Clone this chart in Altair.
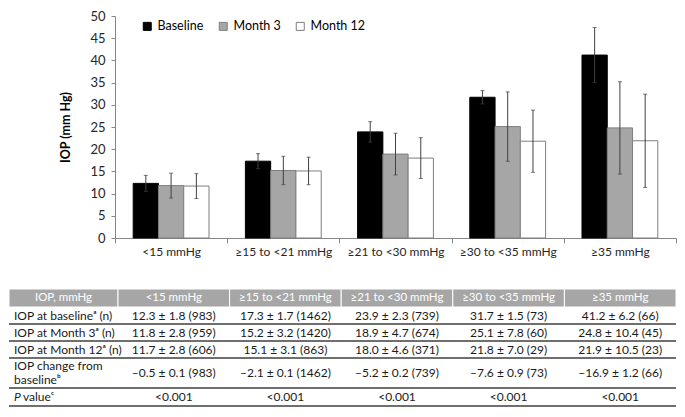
import altair as alt
import pandas as pd

# ---------------- data ----------------
categories = ["<15 mmHg", "≥15 to <21 mmHg", "≥21 to <30 mmHg", "≥30 to <35 mmHg", "≥35 mmHg"]
series = ["Baseline", "Month 3", "Month 12"]

baseline_mean = [12.3, 17.3, 23.9, 31.7, 41.2]
baseline_sd = [1.8, 1.7, 2.3, 1.5, 6.2]
baseline_n = [983, 1462, 739, 73, 66]

month3_mean = [11.8, 15.2, 18.9, 25.1, 24.8]
month3_sd = [2.8, 3.2, 4.7, 7.8, 10.4]
month3_n = [959, 1420, 674, 60, 45]

month12_mean = [11.7, 15.1, 18.0, 21.8, 21.9]
month12_sd = [2.8, 3.1, 4.6, 7.0, 10.5]
month12_n = [606, 863, 371, 29, 23]

change_mean = [-0.5, -2.1, -5.2, -7.6, -16.9]
change_se = [0.1, 0.1, 0.2, 0.9, 1.2]
change_n = [983, 1462, 739, 73, 66]

p_values = ["<0.001", "<0.001", "<0.001", "<0.001", "<0.001"]

y_ticks = [0, 5, 10, 15, 20, 25, 30, 35, 40, 45, 50]

header_first = "IOP, mmHg"
row_labels = ["IOP at baselineᵃ (n)", "IOP at Month 3ᵃ (n)", "IOP at Month 12ᵃ (n)"]
change_label_lines = ["IOP change from", "baselineᵇ"]

# ---------------- layout / style ----------------
FONT = "Lato"
TFS = 12         # table body font size
HFS = 11.5       # table header font size
W = 561          # plot width
H = 222          # plot height
LEFT = 106       # space left of plot (table spans it)
TOTAL_W = LEFT + W
TABLE_H = 117
first_col_w = 109
col_edges = [0, first_col_w] + [first_col_w + (TOTAL_W - first_col_w) * (i + 1) / 5 for i in range(5)]
row_edges = [0, 18, 35, 52, 69, 99, 117]

fills = ["#000000", "#a6a6a6", "#ffffff"]
strokes = ["#000000", "#7f7f7f", "#7f7f7f"]

# ---------------- bar chart ----------------
recs = []
for s, means, sds in zip(series, [baseline_mean, month3_mean, month12_mean],
                         [baseline_sd, month3_sd, month12_sd]):
    for c, m, sd in zip(categories, means, sds):
        recs.append({"category": c, "series": s, "mean": m, "lo": m - sd, "hi": m + sd})
bdf = pd.DataFrame(recs)

x_enc = alt.X("category:N", sort=categories,
              scale=alt.Scale(paddingInner=0, paddingOuter=0),
              axis=alt.Axis(title=None, labelAngle=0, tickBand="extent", tickSize=5,
                            domainColor="#868686", tickColor="#868686",
                            labelColor="#262626", labelFont=FONT, labelFontSize=12,
                            labelPadding=3))
xo_enc = alt.XOffset("series:N", sort=series,
                     scale=alt.Scale(paddingInner=0, paddingOuter=0.72))
y_scale = alt.Scale(domain=[0, 50], nice=False)
y_axis = alt.Axis(values=y_ticks, grid=False, tickSize=4, labelOverlap=False,
                  labelPadding=6, domainColor="#868686", tickColor="#868686",
                  labelColor="#262626", labelFont=FONT, labelFontSize=13,
                  title="IOP (mm Hg)", titleFont=FONT, titleFontSize=12.5,
                  titleFontWeight="bold", titleColor="#000000", titlePadding=17)

legend = alt.Legend(title=None, orient="none", legendX=26, legendY=4, direction="horizontal",
                    symbolType="square", symbolSize=64, symbolStrokeWidth=1,
                    labelFont=FONT, labelFontSize=12.5, labelColor="#000000",
                    columnPadding=13, labelOffset=4, padding=0)

base = alt.Chart(bdf)
bars = base.mark_bar(strokeWidth=1).encode(
    x=x_enc, xOffset=xo_enc,
    y=alt.Y("mean:Q", scale=y_scale, axis=y_axis, title="IOP (mm Hg)"),
    fill=alt.Fill("series:N", sort=series, scale=alt.Scale(domain=series, range=fills), legend=legend),
    stroke=alt.Stroke("series:N", sort=series, scale=alt.Scale(domain=series, range=strokes), legend=legend),
)
err = base.mark_rule(color="#404040", strokeWidth=1).encode(
    x=x_enc, xOffset=xo_enc, y=alt.Y("lo:Q", scale=y_scale, axis=y_axis, title="IOP (mm Hg)"), y2="hi:Q")
cap_hi = base.mark_tick(color="#404040", size=4, thickness=1).encode(
    x=x_enc, xOffset=xo_enc, y=alt.Y("hi:Q", scale=y_scale, axis=y_axis, title="IOP (mm Hg)"))
cap_lo = base.mark_tick(color="#404040", size=4, thickness=1).encode(
    x=x_enc, xOffset=xo_enc, y=alt.Y("lo:Q", scale=y_scale, axis=y_axis, title="IOP (mm Hg)"))

bar_chart = alt.layer(bars, err, cap_hi, cap_lo).properties(width=W, height=H)

# ---------------- table ----------------
tx = alt.Scale(domain=[0, TOTAL_W], range=[-LEFT, W], nice=False, zero=False)
ty = alt.Scale(domain=[0, TABLE_H], range=[0, TABLE_H], nice=False, zero=False)

headers = [header_first] + categories
hdf = pd.DataFrame({
    "text": headers,
    "x0": col_edges[:-1], "x1": col_edges[1:],
    "xc": [(a + b) / 2 for a, b in zip(col_edges[:-1], col_edges[1:])],
    "y0": row_edges[0], "y1": row_edges[1],
})
hdf["yc"] = (hdf["y0"] + hdf["y1"]) / 2

header_rect = alt.Chart(hdf).mark_rect(fill="#a6a6a6", stroke="#ffffff", strokeWidth=1).encode(
    x=alt.X("x0:Q", scale=tx, axis=None), x2="x1:Q",
    y=alt.Y("y0:Q", scale=ty, axis=None), y2="y1:Q")
header_text = alt.Chart(hdf).mark_text(color="#ffffff", font=FONT, fontSize=HFS, baseline="middle").encode(
    x=alt.X("xc:Q", scale=tx, axis=None), y=alt.Y("yc:Q", scale=ty, axis=None), text="text:N")

def fmt(m, s, n):
    ms = f"{abs(m):.1f}"
    if m < 0:
        ms = "–" + ms
    return f"{ms} ± {s:.1f} ({n})"

body_rows = [
    [fmt(m, s, n) for m, s, n in zip(baseline_mean, baseline_sd, baseline_n)],
    [fmt(m, s, n) for m, s, n in zip(month3_mean, month3_sd, month3_n)],
    [fmt(m, s, n) for m, s, n in zip(month12_mean, month12_sd, month12_n)],
    [fmt(m, s, n) for m, s, n in zip(change_mean, change_se, change_n)],
    p_values,
]
cell_recs = []
for r, vals in enumerate(body_rows):
    yc = (row_edges[r + 1] + row_edges[r + 2]) / 2
    for ci, v in enumerate(vals):
        cell_recs.append({"text": v, "x": (col_edges[ci + 1] + col_edges[ci + 2]) / 2, "y": yc})
cdf = pd.DataFrame(cell_recs)
cell_text = alt.Chart(cdf).mark_text(color="#1a1a1a", font=FONT, fontSize=TFS, baseline="middle").encode(
    x=alt.X("x:Q", scale=tx, axis=None), y=alt.Y("y:Q", scale=ty, axis=None), text="text:N")

lab_recs = []
for r, lab in enumerate(row_labels):
    lab_recs.append({"text": lab, "x": 5, "y": (row_edges[r + 1] + row_edges[r + 2]) / 2})
ch_c = (row_edges[4] + row_edges[5]) / 2
lab_recs.append({"text": change_label_lines[0], "x": 5, "y": ch_c - 7})
lab_recs.append({"text": change_label_lines[1], "x": 5, "y": ch_c + 7})
ldf = pd.DataFrame(lab_recs)
label_text = alt.Chart(ldf).mark_text(color="#1a1a1a", font=FONT, fontSize=TFS, baseline="middle",
                                      align="left").encode(
    x=alt.X("x:Q", scale=tx, axis=None), y=alt.Y("y:Q", scale=ty, axis=None), text="text:N")

p_y = (row_edges[5] + row_edges[6]) / 2
pdf_ = pd.DataFrame({"text": ["P"], "x": [5], "y": [p_y]})
pdf2 = pd.DataFrame({"text": ["valueᶜ"], "x": [14], "y": [p_y]})
p_italic = alt.Chart(pdf_).mark_text(color="#1a1a1a", font=FONT, fontSize=TFS, baseline="middle",
                                     align="left", fontStyle="italic").encode(
    x=alt.X("x:Q", scale=tx, axis=None), y=alt.Y("y:Q", scale=ty, axis=None), text="text:N")
p_rest = alt.Chart(pdf2).mark_text(color="#1a1a1a", font=FONT, fontSize=TFS, baseline="middle",
                                   align="left").encode(
    x=alt.X("x:Q", scale=tx, axis=None), y=alt.Y("y:Q", scale=ty, axis=None), text="text:N")

rdf = pd.DataFrame({"y": row_edges[2:], "x0": 0, "x1": TOTAL_W})
rules = alt.Chart(rdf).mark_rule(color="#3f3f3f", strokeWidth=1.5).encode(
    x=alt.X("x0:Q", scale=tx, axis=None), x2="x1:Q", y=alt.Y("y:Q", scale=ty, axis=None))

table_chart = alt.layer(header_rect, header_text, rules, cell_text, label_text,
                        p_italic, p_rest).properties(width=W, height=TABLE_H)

chart = alt.vconcat(bar_chart, table_chart, spacing=31).properties(
    padding={"top": 2, "left": 0, "right": 0, "bottom": 0}).configure_view(stroke=None)

chart.save("out.html", embed_options={"renderer": "svg", "actions": False})
